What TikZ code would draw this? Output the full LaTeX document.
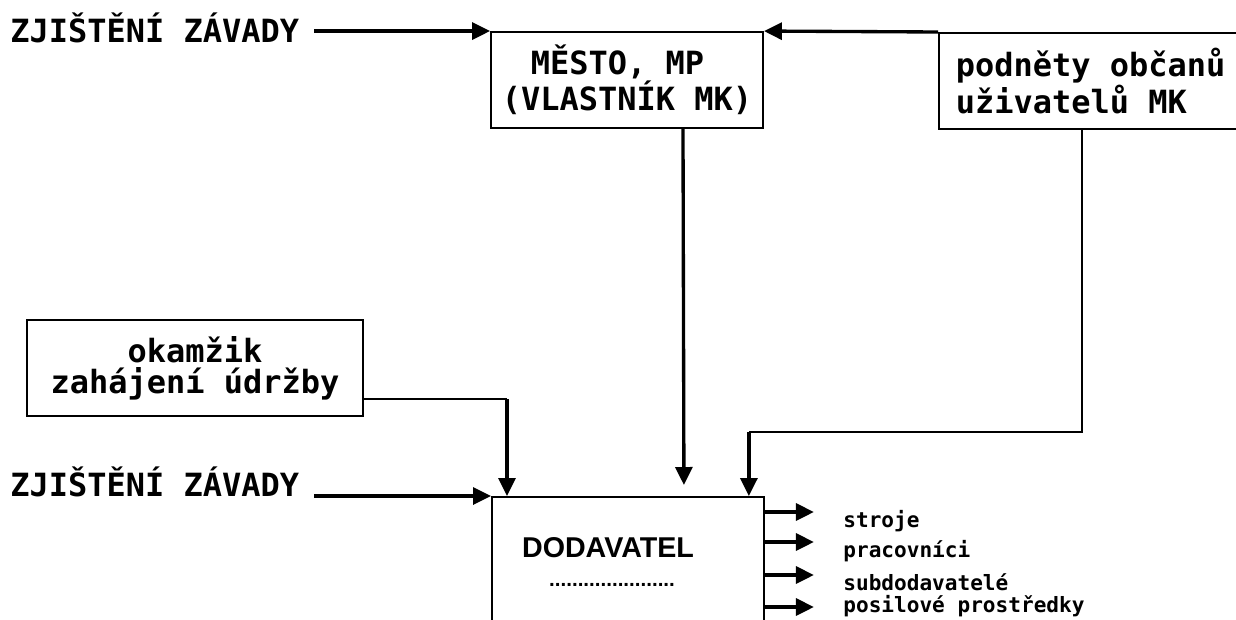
\documentclass[tikz,border=0pt]{standalone}
\usepackage{fontspec}
\setmainfont{Liberation Sans}
\setmonofont{DejaVu Sans Mono}
\usepackage{tikz}
\usetikzlibrary{arrows.meta}

\begin{document}
\begin{tikzpicture}[x=0.02cm,y=-0.02cm,
  box/.style={draw,line width=1.1pt,minimum height=1.92cm,inner sep=0pt,
    font=\ttfamily\bfseries\fontsize{18.2pt}{17.6pt}\selectfont,align=center},
  word/.style={inner sep=0pt,font=\ttfamily\bfseries\fontsize{18.2pt}{17.6pt}\selectfont},
  lbl/.style={inner sep=0pt,font=\ttfamily\bfseries\fontsize{12pt}{14pt}\selectfont},
  conn/.style={line width=1pt},
  arr/.style={line width=1.9pt,-{Triangle[length=0.36cm,width=0.34cm]}}]
\useasboundingbox (0,0) rectangle (1236,619);
% top row
\node[word,anchor=base west] (zjA) at (10,42) {ZJIŠTĚNÍ ZÁVADY};
\node[box,minimum width=5.44cm] (mesto) at (627,80) {MĚSTO, MP\hphantom{X}\\(VLASTNÍK MK)};
\node[box,anchor=north west,minimum width=6.4cm,text width=5.72cm,align=flush left,inner xsep=0.34cm] (podnety) at (938,32) {podněty občanů\\uživatelů MK};
% lower part
\node[box,minimum width=6.72cm] (okamzik) at (195,368) {okamžik\\zahájení údržby};
\node[word,anchor=base west] (zjB) at (10,496) {ZJIŠTĚNÍ ZÁVADY};
\node[draw,line width=1.1pt,anchor=north west,minimum width=5.44cm,minimum height=3cm] (dod) at (491,496) {};
\node[inner sep=0pt,font=\bfseries\fontsize{16.3pt}{18pt}\selectfont] (dodname) at (608,548) {DODAVATEL};
\node[inner sep=0pt,font=\bfseries\fontsize{11.7pt}{14pt}\selectfont] (doddots) at (612,585) {......................};
\node[lbl,anchor=base west] (stroje) at (843,527) {stroje};
\node[lbl,anchor=base west] (pracovnici) at (843,557) {pracovníci};
\node[lbl,anchor=base west] (subdod) at (843,590) {subdodavatelé};
\node[lbl,anchor=base west] (posil) at (843,612) {posilové prostředky};
% connectors
\draw[arr,shorten <=0.3cm] (zjA.east |- mesto.north west) -- (mesto.north west);
\draw[arr] (podnety.north west) -- (mesto.north east);
\draw[arr,shorten <=0.3cm] (zjB.east |- dod.north west) -- (dod.north west);
\draw[arr] ([xshift=1.12cm]mesto.south) -- ([xshift=1.12cm,yshift=0.22cm]dod.north);
\coordinate (kL) at ([xshift=0.32cm]dod.north west);
\coordinate (kR) at ([xshift=-0.32cm]dod.north east);
\coordinate (okL) at ([yshift=-0.62cm]okamzik.east);
\draw[conn] (okL) -- (kL |- okL);
\draw[arr] (kL |- okL) -- (kL);
\draw[conn] ([xshift=2.88cm]podnety.south west) |- ([yshift=1.28cm]kR);
\draw[arr] ([yshift=1.28cm]kR) -- (kR);
\foreach \d in {16,46,79,111}
  \draw[arr] ([yshift=-\d*0.02cm]dod.north east) -- ++(49,0);
\end{tikzpicture}
\end{document}
